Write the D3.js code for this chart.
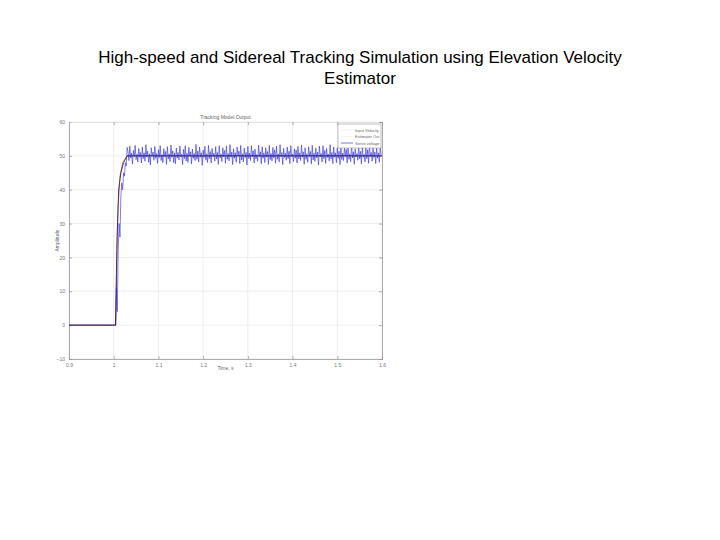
<!DOCTYPE html>
<html>
<head>
<meta charset="utf-8">
<script src="https://cdn.jsdelivr.net/npm/d3@7"></script>
<style>
  body { margin: 0; background: #fff; }
  svg { display: block; }
</style>
</head>
<body>
<div id="chart"></div>
<script>
// axis ticks
const xTicks = [0.9, 1.0, 1.1, 1.2, 1.3, 1.4, 1.5, 1.6];
const yTicks = [-10, 0, 10, 20, 30, 40, 50, 60];
const legendNames = ["Input Velocity", "Estimator Out", "Servo voltage"];

// servo voltage (blue), noisy response
const servoStartT = [0.9, 1.004, 1.006, 1.008, 1.010, 1.012, 1.014, 1.016, 1.018, 1.020, 1.022, 1.024, 1.026, 1.028, 1.030];
const servoStartV = [0, 0, 11, 4, 22, 30, 26, 38, 42, 40, 45, 44, 48, 47, 52.5];
const servoNoise = [
  51.2, 48.6, 52.9, 49.4, 50.8, 47.6, 51.6, 49.8, 53.1, 48.9, 50.5, 48.2, 52.2, 49.6, 51.0, 47.9, 52.6, 49.2, 50.9, 48.4,
  53.3, 49.7, 51.4, 48.1, 50.6, 47.3, 52.4, 49.9, 51.1, 48.7, 52.8, 49.3, 50.7, 47.8, 51.8, 49.5, 53.0, 48.6, 50.4, 48.0,
  52.1, 49.8, 51.3, 47.5, 52.7, 49.1, 50.6, 48.3, 53.2, 49.6, 51.5, 48.0, 50.9, 47.7, 52.3, 49.4, 51.0, 48.8, 52.9, 49.7,
  50.5, 47.4, 51.9, 49.2, 53.0, 48.5, 50.8, 48.1, 52.5, 49.9, 51.2, 47.6, 52.0, 49.3, 50.7, 48.6, 53.4, 49.0, 51.4, 48.2,
  52.6, 49.6, 50.9, 47.2, 51.7, 49.5, 52.8, 48.7, 50.6, 48.0, 53.1, 49.2, 51.3, 47.9, 52.2, 49.8, 50.8, 48.4, 52.7, 49.1,
  51.0, 47.5, 53.0, 49.4, 50.5, 48.3, 52.4, 49.7, 51.6, 47.8, 52.9, 49.0, 50.7, 48.5, 53.3, 49.6, 51.1, 47.4, 52.1, 49.3,
  50.9, 48.1, 52.6, 49.9, 51.4, 47.7, 53.1, 48.8, 50.6, 48.2, 52.3, 49.5, 51.0, 47.3, 52.8, 49.2, 50.8, 48.6, 53.0, 49.7,
  51.5, 47.9, 52.0, 49.1, 50.4, 48.4, 53.2, 49.8, 51.2, 47.6, 52.7, 49.3, 50.9, 48.0, 52.4, 49.6, 51.3, 47.5, 53.1, 48.9,
  50.7, 48.5, 52.5, 49.4, 51.8, 47.8, 52.9, 49.0, 50.6, 48.2, 53.3, 49.7, 51.0, 47.4, 52.2, 49.5, 50.8, 48.7, 52.6, 49.2,
  51.4, 47.7, 53.0, 49.8, 50.5, 48.3, 52.1, 49.3, 51.7, 47.9, 52.8, 49.1, 50.9, 48.6, 53.2, 49.6, 51.2, 47.5, 52.4, 49.0,
  50.6, 48.1, 52.7, 49.9, 51.3, 47.6, 53.1, 48.8, 50.8, 48.4, 52.3, 49.4, 51.1, 47.3, 52.9, 49.7, 50.7, 48.2, 53.0, 49.2,
  51.6, 47.8, 52.2, 49.5, 50.5, 48.5, 53.3, 49.1, 51.0, 47.7, 52.6, 49.6, 50.9, 48.0, 52.4, 49.3, 51.4, 47.4, 53.1, 48.9,
  50.8, 48.6, 52.5, 49.8, 51.9, 47.9, 52.8, 49.0, 50.6, 48.3, 53.2, 49.4, 51.2, 47.5, 52.1, 49.7, 50.7, 48.7, 52.9, 49.1,
  51.3, 47.6, 53.0, 49.6, 50.4, 48.2, 52.3, 49.2, 51.8, 47.8, 52.7, 49.9, 51.0, 48.4, 53.1, 49.5, 51.1, 47.7, 52.5, 49.3,
  50.9, 48.1, 52.6, 50.2
];
const servoNoiseT0 = 1.032;
const servoStepT = 0.002;

// estimator output (black)
const estT = [0.9, 1.004, 1.006, 1.008, 1.011, 1.016, 1.022, 1.030, 1.6];
const estV = [0, 0, 15, 28, 40, 45, 48, 50, 50];

// input velocity (red)
const inT = [0.9, 1.005, 1.006, 1.007, 1.010, 1.014, 1.020, 1.030, 1.6];
const inV = [0, 0, 10, 22, 35, 44, 48, 50, 50];

const W = 720, H = 540;
const margin = {left: 69, right: 338, top: 122, bottom: 181};
const pw = W - margin.left - margin.right;
const ph = H - margin.top - margin.bottom;

const svg = d3.select("#chart").append("svg")
  .attr("width", W).attr("height", H);

svg.append("text")
  .attr("x", 360).attr("y", 63)
  .attr("text-anchor", "middle")
  .attr("font-family", "Liberation Sans, Arial, sans-serif")
  .attr("font-size", 17)
  .text("High-speed and Sidereal Tracking Simulation using Elevation Velocity");
svg.append("text")
  .attr("x", 360).attr("y", 84)
  .attr("text-anchor", "middle")
  .attr("font-family", "Liberation Sans, Arial, sans-serif")
  .attr("font-size", 17)
  .text("Estimator");

const g = svg.append("g").attr("transform", `translate(${margin.left},${margin.top})`);

const x = d3.scaleLinear().domain([0.9, 1.6]).range([0, pw]);
const y = d3.scaleLinear().domain([-10, 60]).range([ph, 0]);

// grid
g.append("g").selectAll("line").data(xTicks).join("line")
  .attr("x1", d => x(d)).attr("x2", d => x(d))
  .attr("y1", 0).attr("y2", ph)
  .attr("stroke", "#e8e8e8").attr("stroke-width", 0.8);
g.append("g").selectAll("line").data(yTicks).join("line")
  .attr("x1", 0).attr("x2", pw)
  .attr("y1", d => y(d)).attr("y2", d => y(d))
  .attr("stroke", "#e8e8e8").attr("stroke-width", 0.8);

// axes
const fmt = d => d3.format("")(d);
const xAxis = g.append("g").attr("transform", `translate(0,${ph})`)
  .call(d3.axisBottom(x).tickValues(xTicks).tickSize(-3).tickPadding(4).tickFormat(fmt));
const yAxis = g.append("g")
  .call(d3.axisLeft(y).tickValues(yTicks).tickSize(-3).tickPadding(4).tickFormat(fmt));
const xTop = g.append("g")
  .call(d3.axisTop(x).tickValues(xTicks).tickSize(-3).tickFormat(""));
const yRight = g.append("g").attr("transform", `translate(${pw},0)`)
  .call(d3.axisRight(y).tickValues(yTicks).tickSize(-3).tickFormat(""));
[xAxis, yAxis, xTop, yRight].forEach(a => {
  a.selectAll("path, line").attr("stroke", "#999").attr("stroke-width", 0.8);
  a.selectAll("text").attr("font-size", 5).attr("fill", "#777")
    .attr("font-family", "Liberation Sans, Arial, sans-serif");
});
xTop.select("path").attr("stroke", "#ddd");

// series
const line = d3.line().x(d => x(d[0])).y(d => y(d[1]));
const servoData = servoStartT.map((t, i) => [t, servoStartV[i]])
  .concat(servoNoise.map((v, i) => [servoNoiseT0 + i * servoStepT, v]));
const estData = estT.map((t, i) => [t, estV[i]]);
const inData = inT.map((t, i) => [t, inV[i]]);

g.append("path").datum(inData).attr("d", line)
  .attr("fill", "none").attr("stroke", "#d05050").attr("stroke-width", 0.8);
g.append("path").datum(servoData).attr("d", line)
  .attr("fill", "none").attr("stroke", "#3636e6").attr("stroke-width", 0.65);
g.append("path").datum(estData).attr("d", line)
  .attr("fill", "none").attr("stroke", "#202048").attr("stroke-width", 0.8);

// inner labels
const small = (sel) => sel.attr("font-family", "Liberation Sans, Arial, sans-serif")
  .attr("font-size", 5).attr("fill", "#666");
g.append("text").attr("x", pw / 2).attr("y", -3).attr("text-anchor", "middle")
  .call(small).text("Tracking Model Output");
g.append("text").attr("x", pw / 2).attr("y", ph + 11).attr("text-anchor", "middle")
  .call(small).text("Time, s");
g.append("text").attr("transform", `translate(-10,${ph / 2}) rotate(-90)`)
  .attr("text-anchor", "middle").call(small).text("Amplitude");

// legend
const lg = g.append("g").attr("transform", `translate(${pw - 44},2)`);
lg.append("rect").attr("width", 43).attr("height", 24)
  .attr("fill", "#fff").attr("stroke", "#999").attr("stroke-width", 0.6);
const legendColors = ["#eee", "#eee", "#3636e6"];
legendNames.forEach((name, i) => {
  const yy = 6 + i * 6.5;
  lg.append("line").attr("x1", 3).attr("x2", 15).attr("y1", yy).attr("y2", yy)
    .attr("stroke", legendColors[i]).attr("stroke-width", 0.7);
  lg.append("text").attr("x", 17).attr("y", yy + 1.6).call(small)
    .attr("font-size", 4).text(name);
});
</script>
</body>
</html>
